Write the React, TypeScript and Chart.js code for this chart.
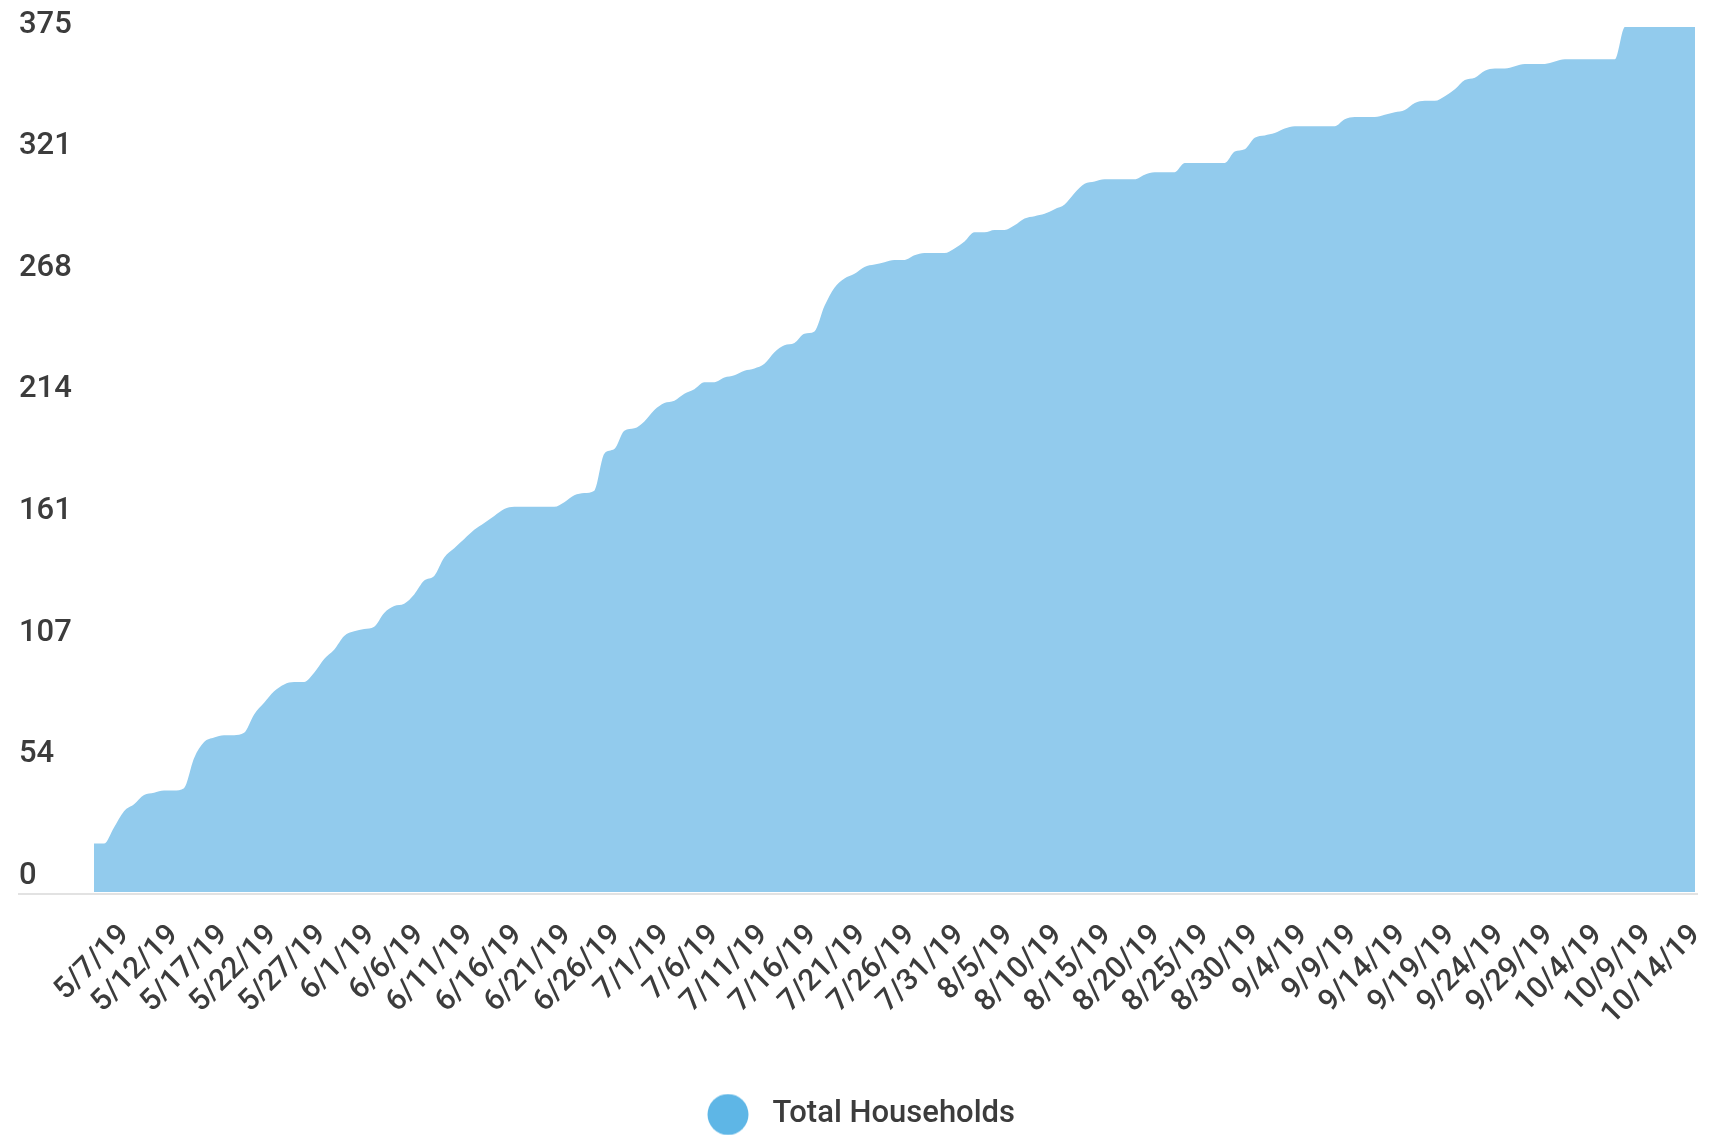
import React, { useEffect, useRef } from "react";
import { Chart, registerables } from "chart.js";

Chart.register(...registerables);

// ---- data ----
const SERIES_LABEL = "Total Households";
const START_YEAR = 2019;
const START_MONTH = 4; // May (0-based)
const START_DAY = 7;

const TOTAL_HOUSEHOLDS = [
  21, 21, 28, 35, 38, 42, 43, 44, 44, 45,
  58, 65, 67, 68, 68, 69, 77, 82, 87, 90,
  91, 91, 95, 101, 105, 111, 113, 114, 115, 121,
  124, 125, 129, 135, 137, 145, 149, 153, 157, 160,
  163, 166, 167, 167, 167, 167, 167, 169, 172, 173,
  174, 190, 192, 200, 201, 204, 209, 212, 213, 216,
  218, 221, 221, 223, 224, 226, 227, 229, 234, 237,
  238, 242, 243, 254, 262, 266, 268, 271, 272, 273,
  274, 274, 276, 277, 277, 277, 279, 282, 286, 286,
  287, 287, 289, 292, 293, 294, 296, 298, 303, 307,
  308, 309, 309, 309, 309, 311, 312, 312, 312, 316,
  316, 316, 316, 316, 321, 322, 327, 328, 329, 331,
  332, 332, 332, 332, 332, 335, 336, 336, 336, 337,
  338, 339, 342, 343, 343, 345, 348, 352, 353, 356,
  357, 357, 358, 359, 359, 359, 360, 361, 361, 361,
  361, 361, 361, 375, 375, 375, 375, 375, 375, 375,
  375,
];

const X_TICK_LABELS = [
  "5/7/19", "5/12/19", "5/17/19", "5/22/19", "5/27/19", "6/1/19", "6/6/19",
  "6/11/19", "6/16/19", "6/21/19", "6/26/19", "7/1/19", "7/6/19", "7/11/19",
  "7/16/19", "7/21/19", "7/26/19", "7/31/19", "8/5/19", "8/10/19", "8/15/19",
  "8/20/19", "8/25/19", "8/30/19", "9/4/19", "9/9/19", "9/14/19", "9/19/19",
  "9/24/19", "9/29/19", "10/4/19", "10/9/19", "10/14/19",
];
const X_TICK_STEP_DAYS = 5;

const Y_MAX = 375;
const Y_TICK_LABELS = ["0", "54", "107", "161", "214", "268", "321", "375"];

// ---- style ----
const AREA_COLOR = "#92CBED";
const LEGEND_COLOR = "#5EB6E6";
const TEXT_COLOR = "#3c3c3c";
const FONT_FAMILY = "Roboto, 'Noto Sans', sans-serif";

const DATES: string[] = TOTAL_HOUSEHOLDS.map((_, i) => {
  const d = new Date(START_YEAR, START_MONTH, START_DAY + i);
  return `${d.getMonth() + 1}/${d.getDate()}/${String(d.getFullYear()).slice(2)}`;
});

export default function App() {
  const canvasRef = useRef<HTMLCanvasElement | null>(null);

  useEffect(() => {
    const canvas = canvasRef.current;
    if (!canvas) return;

    const dot = document.createElement("canvas");
    dot.width = 42;
    dot.height = 42;
    const dctx = dot.getContext("2d");
    if (dctx) {
      dctx.fillStyle = LEGEND_COLOR;
      dctx.beginPath();
      dctx.arc(21, 21, 20.5, 0, Math.PI * 2);
      dctx.fill();
    }

    const baselinePlugin = {
      id: "baselineRule",
      afterDatasetsDraw(chart: any) {
        const { ctx, chartArea } = chart;
        const yl = chart.scales.yLabels;
        ctx.save();
        ctx.strokeStyle = "#e2e2e2";
        ctx.lineWidth = 2;
        ctx.beginPath();
        ctx.moveTo(yl.left - 1, chartArea.bottom + 2);
        ctx.lineTo(chartArea.right + 3, chartArea.bottom + 2);
        ctx.stroke();
        ctx.restore();
      },
    };

    const chart = new Chart(canvas, {
      type: "line",
      data: {
        labels: DATES,
        datasets: [
          {
            label: SERIES_LABEL,
            data: TOTAL_HOUSEHOLDS,
            fill: "origin",
            backgroundColor: AREA_COLOR,
            borderColor: AREA_COLOR,
            borderWidth: 0,
            pointRadius: 0,
            pointHoverRadius: 0,
            cubicInterpolationMode: "monotone",
          },
        ],
      },
      options: {
        responsive: false,
        animation: false,
        devicePixelRatio: 1,
        layout: { padding: { left: 19, right: 21, top: 27, bottom: 0 } },
        plugins: {
          tooltip: { enabled: false },
          legend: {
            display: true,
            position: "bottom",
            align: "center",
            labels: {
              usePointStyle: true,
              pointStyle: dot as any,
              pointStyleWidth: 58,
              padding: 10,
              color: TEXT_COLOR,
              font: { family: FONT_FAMILY, size: 31, weight: "500" },
            },
          },
        },
        scales: {
          x: { type: "category", display: false },
          y: { type: "linear", display: false, min: 0, max: Y_MAX },
          xLabels: {
            type: "linear",
            axis: "x",
            position: "bottom",
            min: -3.16,
            max: 159.89,
            bounds: "data",
            grid: { display: false },
            border: { display: false },
            ticks: {
              autoSkip: false,
              minRotation: 45,
              maxRotation: 45,
              padding: 18,
              color: TEXT_COLOR,
              font: { family: FONT_FAMILY, size: 30, weight: "500" },
              callback: (_v: any, i: number) => X_TICK_LABELS[i],
            },
            afterBuildTicks: (s: any) => {
              s.ticks = X_TICK_LABELS.map((_, i) => ({ value: i * X_TICK_STEP_DAYS }));
            },
            afterFit: (s: any) => {
              s.height = 197;
              s.paddingLeft = 0;
              s.paddingRight = 0;
            },
          },
          yLabels: {
            type: "linear",
            axis: "y",
            position: "left",
            min: -7.05,
            max: 374.12,
            bounds: "data",
            grid: { display: false },
            border: { display: false },
            ticks: {
              padding: 0,
              crossAlign: "far",
              color: TEXT_COLOR,
              font: { family: FONT_FAMILY, size: 31, weight: "500" },
              callback: (_v: any, i: number) => Y_TICK_LABELS[i],
            },
            afterBuildTicks: (s: any) => {
              const n = Y_TICK_LABELS.length - 1;
              s.ticks = Y_TICK_LABELS.map((_, k) => ({ value: (k * Y_MAX) / n }));
            },
            afterFit: (s: any) => {
              s.width = 75;
              s.paddingTop = 0;
              s.paddingBottom = 0;
            },
          },
        } as any,
      },
      plugins: [baselinePlugin],
    } as any);

    return () => chart.destroy();
  }, []);

  return (
    <div style={{ position: "fixed", left: 0, top: 0, width: 1716, height: 1140, background: "#fff" }}>
      <canvas ref={canvasRef} width={1716} height={1140} style={{ display: "block", width: 1716, height: 1140 }} />
    </div>
  );
}
